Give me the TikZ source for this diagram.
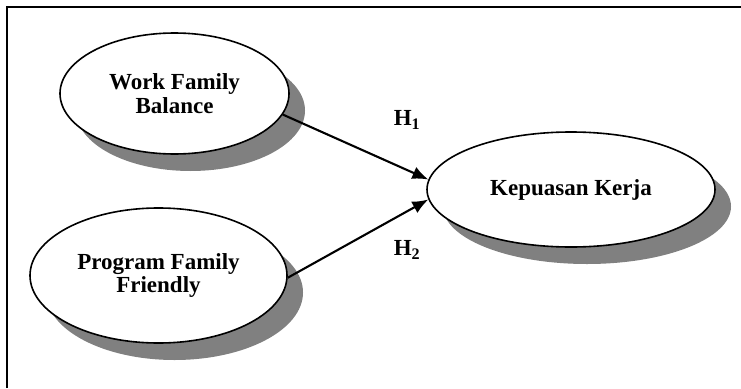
\documentclass[tikz,border=0pt]{standalone}
\usepackage{fontspec}
\setmainfont{Liberation Serif}
\usepackage{tikz}
\usetikzlibrary{arrows.meta}
\usetikzlibrary{shapes}
\usetikzlibrary{shadows}
\tikzset{
    arrow/.style={-{Latex[length=16pt,width=13pt]}, line width=2.1pt},
    oval/.style = {
      ellipse,
      draw=black,
      line width=1.6pt,
      fill=white,
      inner sep=0pt,
      align=center,
      font=\fontsize{23}{23.5}\selectfont\bfseries,
      drop shadow={shadow xshift=16pt, shadow yshift=-17pt, fill=black!50, opacity=1}
    },
    hlabel/.style = {
      font=\fontsize{23}{23.5}\selectfont\bfseries
    },
}

\begin{document}
\begin{tikzpicture}[x=1pt, y=-1pt]
        \useasboundingbox (0,0) rectangle (741,388);
        \draw[line width=1.8pt] (7,388) -- (7,7) -- (741,7);

        \node[oval, minimum width=229pt, minimum height=121pt] (wfb) at (174.5,93.5) {Work Family\\Balance};
        \node[oval, minimum width=257pt, minimum height=135pt] (pff) at (158.5,275.5) {Program Family\\Friendly};
        \node[oval, minimum width=288pt, minimum height=115pt] (kk) at (571,189.5) {Kepuasan Kerja};

        \draw[arrow] (wfb.-11) -- (kk.176);
        \draw[arrow] (pff.-1) -- (kk.184);

        \node[hlabel] (h1) at (407,120) {H\textsubscript{1}};
        \node[hlabel] (h2) at (407,250) {H\textsubscript{2}};
      \end{tikzpicture}
\end{document}
